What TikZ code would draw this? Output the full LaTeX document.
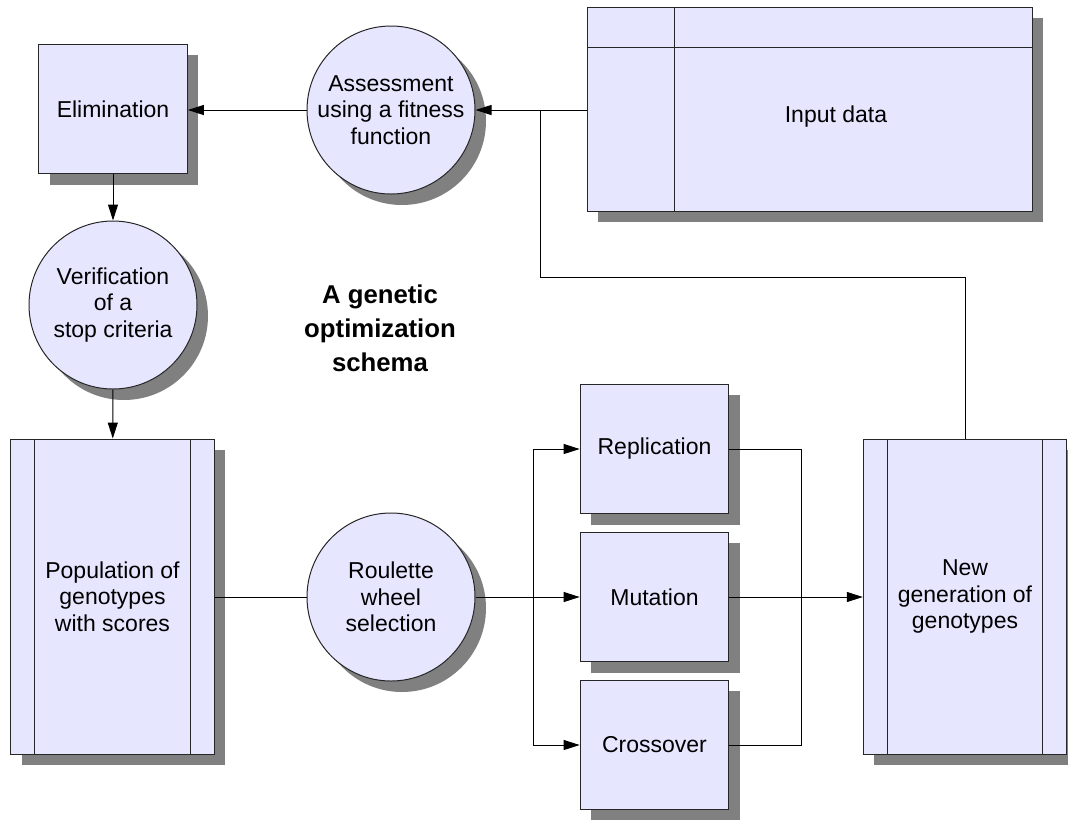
\documentclass[tikz,border=0pt]{standalone}
\usepackage{fontspec}
\setmainfont{Liberation Sans}
\usetikzlibrary{arrows.meta,shadows}
\definecolor{boxfill}{RGB}{230,230,255}
\definecolor{shade}{RGB}{128,128,128}
\tikzset{
  base/.style={draw=black!85, line width=0.75pt, fill=boxfill, align=center, inner sep=0pt,
    font=\fontsize{17.25}{20}\selectfont,
    drop shadow={shadow xshift=8.25pt, shadow yshift=-8.25pt, fill=shade, opacity=1}},
  blk/.style={base, rectangle, minimum width=111.5pt, minimum height=97pt},
  rnd/.style={base, circle, minimum size=126pt},
  store/.style={base, rectangle, minimum width=152.5pt, minimum height=236.25pt,
    path picture={\draw[black!85, line width=0.75pt]
      ([xshift=18pt]path picture bounding box.north west) -- ([xshift=18pt]path picture bounding box.south west)
      ([xshift=-18pt]path picture bounding box.north east) -- ([xshift=-18pt]path picture bounding box.south east);}},
  table/.style={base, rectangle, minimum width=333.75pt, minimum height=153pt,
    path picture={\draw[black!85, line width=0.75pt]
      ([xshift=65.25pt]path picture bounding box.north west) -- ([xshift=65.25pt]path picture bounding box.south west)
      ([yshift=-30pt]path picture bounding box.north west) -- ([yshift=-30pt]path picture bounding box.north east);}},
  conn/.style={line width=0.75pt},
  arr/.style={conn, -{Triangle[length=12pt,width=7.5pt]}}
}
\begin{document}
\begin{tikzpicture}[x=0.75pt, y=-0.75pt]
        \useasboundingbox (0,0) rectangle (1068,819);
        \node[blk] (E) at (113,109) {Elimination};
        \node[rnd] (A) at (391,110) {Assessment\\using a fitness\\function};
        \node[table] (I) at (809.5,109) {};
        \node[font=\fontsize{17.25}{20}\selectfont] (It) at (836,117) {Input data};
        \node[rnd] (V) at (113,305) {Verification\\of a\\stop criteria};
        \node[font=\bfseries\fontsize{19.3}{25.5}\selectfont, align=center] (T) at (380,328) {A genetic\\optimization\\schema};
        \node[store] (P) at (112.5,596.5) {Population of\\genotypes\\with scores};
        \node[rnd] (R) at (391,597) {Roulette\\wheel\\selection};
        \node[blk] (Rp) at (654.5,449) {Replication};
        \node[blk] (M) at (654.5,597) {Mutation};
        \node[blk] (C) at (654.5,745) {Crossover};
        \node[store] (N) at (965,596.5) {New\\generation of\\genotypes};

        \coordinate (J) at (540,110);
        \coordinate (B) at (540,277);
        \coordinate (S) at (533,597);
        \coordinate (G) at (801,597);

        \draw[arr] (A.west) -- (E.east |- A.west);
        \draw[arr] (E) -- (V);
        \draw[arr] (V) -- (P);
        \draw[conn] (P.east |- R.west) -- (R.west);
        \draw[conn] (R.east) -- (S);
        \draw[arr] (S) |- (Rp.west);
        \draw[arr] (S) -- (M.west);
        \draw[arr] (S) |- (C.west);
        \draw[conn] (Rp.east) -| (G);
        \draw[conn] (C.east) -| (G);
        \draw[conn] (M.east) -- (G);
        \draw[arr] (G) -- (N.west |- G);
        \draw[conn] (N.north) |- (B) -- (J);
        \draw[conn] (I.west |- J) -- (J);
        \draw[arr] (J) -- (A.east);
      \end{tikzpicture}
\end{document}
